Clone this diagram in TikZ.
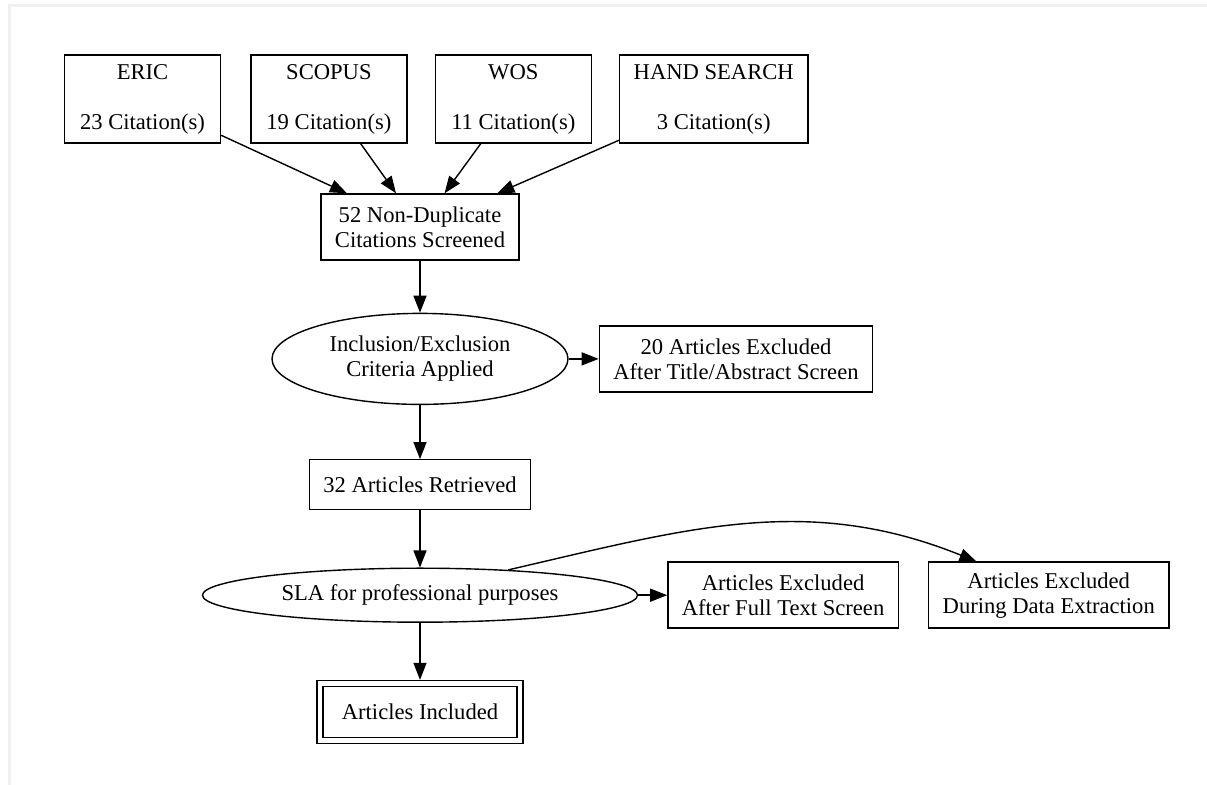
\documentclass[tikz,border=0pt]{standalone}
\usepackage{fontspec}
\setmainfont{Liberation Serif}
\usetikzlibrary{positioning, arrows.meta, shapes.geometric}
\tikzset{
->, % every connector is directed
>={Triangle[length=8.5pt,width=6.5pt]}, % filled heads as in the sketch
every node/.style={font=\fontsize{11.3}{12.5}\selectfont, align=center},
src/.style={draw, rectangle, minimum width=78pt, minimum height=44pt, inner xsep=7pt, inner ysep=0pt}, % database boxes
box/.style={draw, rectangle, minimum height=33pt, inner xsep=7pt, inner ysep=0pt},
oval/.style={draw, ellipse, inner sep=0pt},
final/.style={draw, double, double distance=2.2pt, minimum width=100pt, minimum height=28.5pt, outer sep=1.9pt},
}

\begin{document}
\begin{tikzpicture}[line width=0.7pt, x=0.5pt, y=0.5pt]
        \useasboundingbox (0,0) rectangle (1207,-785);
        \draw[-, gray!12, line width=1.5pt] (9,-785) -- (9,-6) -- (1207,-6);

        \node[src] (eric) at (142.5,-99) {ERIC\\[12.5pt]23 Citation(s)};
        \node[src, right=14.5pt of eric] (scopus) {SCOPUS\\[12.5pt]19 Citation(s)};
        \node[src, right=13.5pt of scopus] (wos) {WOS\\[12.5pt]11 Citation(s)};
        \node[src, right=13.5pt of wos] (hand) {HAND SEARCH\\[12.5pt]3 Citation(s)};

        \node[box] (dup) at (420,-227) {52 Non-Duplicate\\Citations Screened};
        \node[oval, minimum width=148pt, minimum height=45.5pt, below=26pt of dup] (crit) {Inclusion/Exclusion\\Criteria Applied};
        \node[box, right=15pt of crit] (excl1) {20 Articles Excluded\\After Title/Abstract Screen};
        \node[box, minimum height=25pt, below=27pt of crit] (retr) {32 Articles Retrieved};
        \node[oval, minimum width=217.5pt, minimum height=27pt, below=28.5pt of retr] (sla) {SLA for professional purposes};
        \node[box, right=14.5pt of sla] (excl2) {Articles Excluded\\After Full Text Screen};
        \node[box, right=14.5pt of excl2] (excl3) {Articles Excluded\\During Data Extraction};
        \node[final, below=28.5pt of sla] (incl) {Articles Included};

        \foreach \s in {eric, scopus, wos, hand}
            \draw (\s) -- (dup);
        \draw (dup) -- (crit);
        \draw (crit) -- (excl1);
        \draw (crit) -- (retr);
        \draw (retr) -- (sla);
        \draw (sla) -- (excl2);
        \draw (sla.16) to[out=13, in=158] (excl3.155);
        \draw (sla) -- (incl);
    \end{tikzpicture}
\end{document}
